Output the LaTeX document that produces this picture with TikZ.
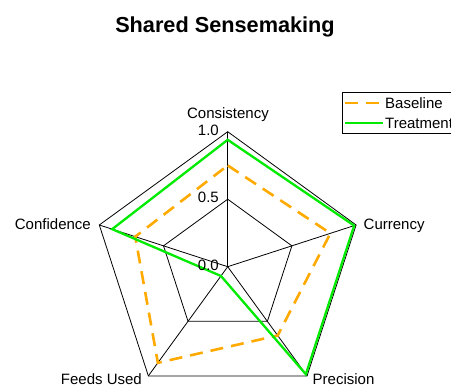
\documentclass[tikz,border=0pt]{standalone}
\usepackage{fontspec}
\setmainfont{Liberation Sans}
\definecolor{baseorange}{RGB}{255,170,0}
\definecolor{treatgreen}{RGB}{0,235,0}
\begin{document}
\begin{tikzpicture}[x=1pt,y=1pt,
  gridline/.style={black, line width=0.8pt},
  baseln/.style={baseorange, line width=2.6pt, dash pattern=on 13pt off 8pt},
  treatln/.style={treatgreen, line width=2.3pt},
  lbl/.style={font=\fontsize{15}{17}\selectfont, inner sep=0pt},
]
\useasboundingbox (0,-385) rectangle (451,0);
% title
\node[font=\bfseries\fontsize{21.7}{24}\selectfont, inner sep=0pt, anchor=base] (title) at (225,-33) {Shared Sensemaking};
% centre and axes
\coordinate (O) at (227.7,-266.7);
\foreach \a/\n in {90/1,18/2,-54/3,-126/4,162/5}{
  \path (O) ++(\a:135) coordinate (v\n);
  \path (O) ++(\a:67.5) coordinate (m\n);
}
\foreach \n in {1,...,5}{ \draw[gridline] (O) -- (v\n); }
\draw[gridline] (v1) -- (v2) -- (v3) -- (v4) -- (v5) -- cycle;
\draw[gridline] (m1) -- (m2) -- (m3) -- (m4) -- (m5) -- cycle;
% data
\foreach \a/\r/\n in {90/0.75/1,18/0.80/2,-54/0.63/3,-126/0.88/4,162/0.72/5}{
  \path (O) ++(\a:\r*135) coordinate (b\n);
}
\foreach \a/\r/\n in {90/0.94/1,18/0.985/2,-54/0.985/3,-126/0.085/4,162/0.90/5}{
  \path (O) ++(\a:\r*135) coordinate (t\n);
}
\draw[baseln, line join=miter] (b1) -- (b2) -- (b3) -- (b4) -- (b5) -- cycle;
\draw[treatln] (t1) -- (t2) -- (t3) -- (t4) -- (t5) -- cycle;
% scale labels
\node[lbl, anchor=base east] (s10) at (219,-135.5) {1.0};
\node[lbl, anchor=base east] (s05) at (219,-203) {0.5};
\node[lbl, anchor=base east] (s00) at (219,-270.5) {0.0};
% axis labels
\node[lbl, anchor=base] (lcons) at (228,-118.5) {Consistency};
\node[lbl, anchor=base west] (lcurr) at (363.5,-230) {Currency};
\node[lbl, anchor=base west] (lprec) at (312.5,-385) {Precision};
\node[lbl, anchor=base east] (lfeed) at (142,-385) {Feeds Used};
\node[lbl, anchor=base east] (lconf) at (91,-229.5) {Confidence};
% legend
\draw[gridline] (342,-92) rectangle (470,-133);
\coordinate (lb1) at (345,-103);
\coordinate (lb2) at (383,-103);
\coordinate (lt1) at (345,-123);
\coordinate (lt2) at (383,-123);
\draw[baseln] (lb1) -- (lb2);
\draw[treatln] (lt1) -- (lt2);
\node[lbl, anchor=base west] (legb) at (385,-108.5) {Baseline};
\node[lbl, anchor=base west] (legt) at (385,-128.5) {Treatment};
\end{tikzpicture}
\end{document}
